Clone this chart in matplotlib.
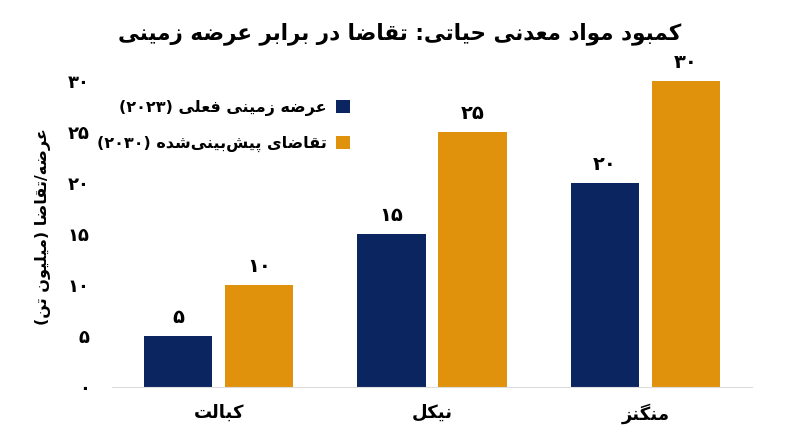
import matplotlib
matplotlib.use("Agg")
import matplotlib.pyplot as plt
import numpy as np

plt.rcParams['font.family'] = ['DejaVu Sans']

title = "کمبود مواد معدنی حیاتی: تقاضا در برابر عرضه زمینی"
y_label = "عرضه/تقاضا (میلیون تن)"
categories = ["کبالت", "نیکل", "منگنز"]
series_names = ["عرضه زمینی فعلی (۲۰۲۳)", "تقاضای پیش‌بینی‌شده (۲۰۳۰)"]
supply_2023 = [5, 15, 20]
demand_2030 = [10, 25, 30]
y_ticks = [0, 5, 10, 15, 20, 25, 30]

navy = "#0b2561"
orange = "#e0920c"

# matplotlib does no arabic shaping, so pick presentation forms by hand
# (isolated, final, initial, medial)
FORMS = {
    'ا': (0xFE8D, 0xFE8E, None, None),
    'آ': (0xFE81, 0xFE82, None, None),
    'ب': (0xFE8F, 0xFE90, 0xFE91, 0xFE92),
    'پ': (0xFB56, 0xFB57, 0xFB58, 0xFB59),
    'ت': (0xFE95, 0xFE96, 0xFE97, 0xFE98),
    'ث': (0xFE99, 0xFE9A, 0xFE9B, 0xFE9C),
    'ج': (0xFE9D, 0xFE9E, 0xFE9F, 0xFEA0),
    'چ': (0xFB7A, 0xFB7B, 0xFB7C, 0xFB7D),
    'ح': (0xFEA1, 0xFEA2, 0xFEA3, 0xFEA4),
    'خ': (0xFEA5, 0xFEA6, 0xFEA7, 0xFEA8),
    'د': (0xFEA9, 0xFEAA, None, None),
    'ذ': (0xFEAB, 0xFEAC, None, None),
    'ر': (0xFEAD, 0xFEAE, None, None),
    'ز': (0xFEAF, 0xFEB0, None, None),
    'ژ': (0xFB8A, 0xFB8B, None, None),
    'س': (0xFEB1, 0xFEB2, 0xFEB3, 0xFEB4),
    'ش': (0xFEB5, 0xFEB6, 0xFEB7, 0xFEB8),
    'ص': (0xFEB9, 0xFEBA, 0xFEBB, 0xFEBC),
    'ض': (0xFEBD, 0xFEBE, 0xFEBF, 0xFEC0),
    'ط': (0xFEC1, 0xFEC2, 0xFEC3, 0xFEC4),
    'ظ': (0xFEC5, 0xFEC6, 0xFEC7, 0xFEC8),
    'ع': (0xFEC9, 0xFECA, 0xFECB, 0xFECC),
    'غ': (0xFECD, 0xFECE, 0xFECF, 0xFED0),
    'ف': (0xFED1, 0xFED2, 0xFED3, 0xFED4),
    'ق': (0xFED5, 0xFED6, 0xFED7, 0xFED8),
    'ک': (0xFB8E, 0xFB8F, 0xFB90, 0xFB91),
    'گ': (0xFB92, 0xFB93, 0xFB94, 0xFB95),
    'ل': (0xFEDD, 0xFEDE, 0xFEDF, 0xFEE0),
    'م': (0xFEE1, 0xFEE2, 0xFEE3, 0xFEE4),
    'ن': (0xFEE5, 0xFEE6, 0xFEE7, 0xFEE8),
    'و': (0xFEED, 0xFEEE, None, None),
    'ه': (0xFEE9, 0xFEEA, 0xFEEB, 0xFEEC),
    'ی': (0xFBFC, 0xFBFD, 0xFBFE, 0xFBFF),
}


def joins_next(ch):
    return ch in FORMS and FORMS[ch][2] is not None


def rtl(text):
    out = []
    for i, ch in enumerate(text):
        if ch not in FORMS:
            if ch != '\u200c':
                out.append(ch)
            continue
        prev = text[i - 1] if i > 0 else ''
        nxt = text[i + 1] if i + 1 < len(text) else ''
        p = joins_next(prev)
        n = joins_next(ch) and nxt in FORMS
        iso, fin, ini, med = FORMS[ch]
        if p and n:
            code = med
        elif p:
            code = fin
        elif n:
            code = ini
        else:
            code = iso
        out.append(chr(code))
    s = ''.join(reversed(out))
    s = s.translate(str.maketrans('()', ')('))
    # digit runs stay left to right
    res, run = [], []
    for ch in s:
        if ch.isdigit():
            run.append(ch)
        else:
            res.extend(reversed(run))
            run = []
            res.append(ch)
    res.extend(reversed(run))
    return ''.join(res)


def fa_num(v):
    return str(v).translate(str.maketrans('0123456789', '۰۱۲۳۴۵۶۷۸۹'))


fig = plt.figure(figsize=(8, 4.47), dpi=100)
ax = fig.add_axes([0.14, 0.134, 0.80, 0.718])

x = np.arange(len(categories))
w = 0.32
b1 = ax.bar(x - 0.19, supply_2023, w, color=navy, label=rtl(series_names[0]))
b2 = ax.bar(x + 0.19, demand_2030, w, color=orange, label=rtl(series_names[1]))

for bars, vals in [(b1, supply_2023), (b2, demand_2030)]:
    for r, v in zip(bars, vals):
        ax.text(r.get_x() + r.get_width() / 2, v + 0.9, fa_num(v),
                ha='center', va='bottom', fontsize=14, fontweight='bold')

ax.set_xlim(-0.5, 2.5)
ax.set_ylim(0, 31.5)
ax.set_xticks(x)
ax.set_xticklabels([rtl(c) for c in categories], fontsize=13, fontweight='bold')
ax.set_yticks(y_ticks)
ax.set_yticklabels([fa_num(t) for t in y_ticks], fontsize=13, fontweight='bold')
ax.tick_params(axis='both', length=0)
ax.tick_params(axis='x', pad=12)
ax.tick_params(axis='y', pad=16)
for s in ['top', 'right', 'left']:
    ax.spines[s].set_visible(False)
ax.spines['bottom'].set_color('#dddddd')

ax.set_ylabel(rtl(y_label), fontsize=11.5, fontweight='bold', labelpad=12)

ax.legend(loc='upper right', bbox_to_anchor=(0.395, 0.94), frameon=False,
          markerfirst=False, handlelength=0.9, handleheight=0.9,
          handletextpad=0.6, labelspacing=1.25,
          prop={'size': 11.5, 'weight': 'bold'})

fig.suptitle(rtl(title), fontsize=15.5, fontweight='bold', y=0.95)

fig.savefig("out.png", dpi=100)
